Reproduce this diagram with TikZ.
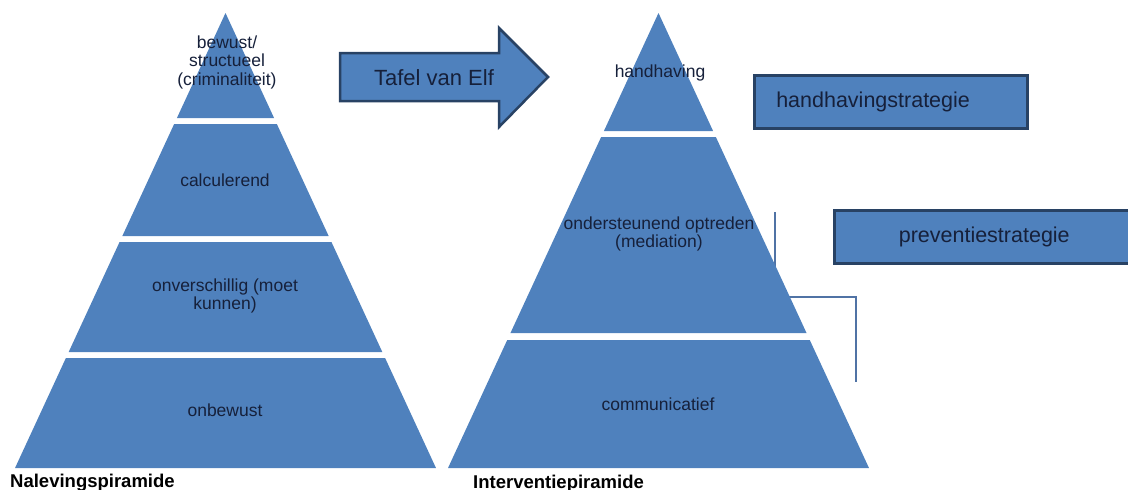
\documentclass[tikz,border=0pt]{standalone}
\usepackage{fontspec}
\setmainfont{Liberation Sans}
\definecolor{pyrblue}{RGB}{79,129,189}
\definecolor{pyrline}{RGB}{40,66,100}
\definecolor{pyrtext}{RGB}{22,32,58}
\definecolor{linkblue}{RGB}{80,115,165}
\newcommand{\pyrtier}[3]{\fill[pyrblue] ({#1-0.4626*(#2-13)},#2) -- ({#1+0.4626*(#2-13)},#2)
    -- ({#1+0.4626*(#3-13)},#3) -- ({#1-0.4626*(#3-13)},#3) -- cycle;}

\begin{document}
\begin{tikzpicture}[x=1pt, y=-1pt,
    lbl/.style={font=\fontsize{17.5}{18.5}\selectfont, text=pyrtext, align=center, inner sep=0pt},
    strat/.style={draw=pyrline, line width=2.5pt, fill=pyrblue, text=pyrtext,
                  font=\fontsize{21.5}{22}\selectfont, minimum height=53pt, anchor=north west},
    caption/.style={font=\bfseries\fontsize{18.5}{18.5}\selectfont, anchor=base west, inner sep=0pt}]
    \useasboundingbox (0,0) rectangle (1128,490);

    \coordinate (brtop) at (775,212);
    \coordinate (brmid) at (856,297);
    \coordinate (brend) at (856,382);
    \draw[linkblue, line width=1.2pt] (brtop) |- (brmid) -- (brend);

    \foreach \yt/\yb in {13/118, 124/236, 242/352, 358/468} {\pyrtier{225.5}{\yt}{\yb}}
    \foreach \yt/\yb in {13/131, 137/333, 340/468} {\pyrtier{658.5}{\yt}{\yb}}

    \node[lbl] (bewust) at (227,62) {bewust/\\structueel\\(criminaliteit)};
    \node[lbl] (calc) at (225,180) {calculerend};
    \node[lbl] (onverschillig) at (225,296) {onverschillig (moet\\kunnen)};
    \node[lbl] (onbewust) at (225,410) {onbewust};
    \node[caption] (naleving) at (10,487) {Nalevingspiramide};

    \node[lbl] (handhaving) at (660,73) {handhaving};
    \node[lbl] (ondersteunend) at (659,234) {ondersteunend optreden\\(mediation)};
    \node[lbl] (communicatief) at (658,404) {communicatief};
    \node[caption] (interventie) at (473,488) {Interventiepiramide};

    \draw[pyrline, fill=pyrblue, line width=2.5pt] (340,53) -- (499,53) -- (499,28) -- (548,77)
        -- (499,127) -- (499,101) -- (340,101) -- cycle;
    \node[text=pyrtext, font=\fontsize{22}{22}\selectfont] (tafel) at (434,78) {Tafel van Elf};

    \node[strat, text width=229pt, inner xsep=22pt, align=left] (hstrat) at (753,74) {handhavingstrategie};
    \node[strat, minimum width=300pt, align=center] (pstrat) at (833,209) {preventiestrategie};
\end{tikzpicture}
\end{document}
